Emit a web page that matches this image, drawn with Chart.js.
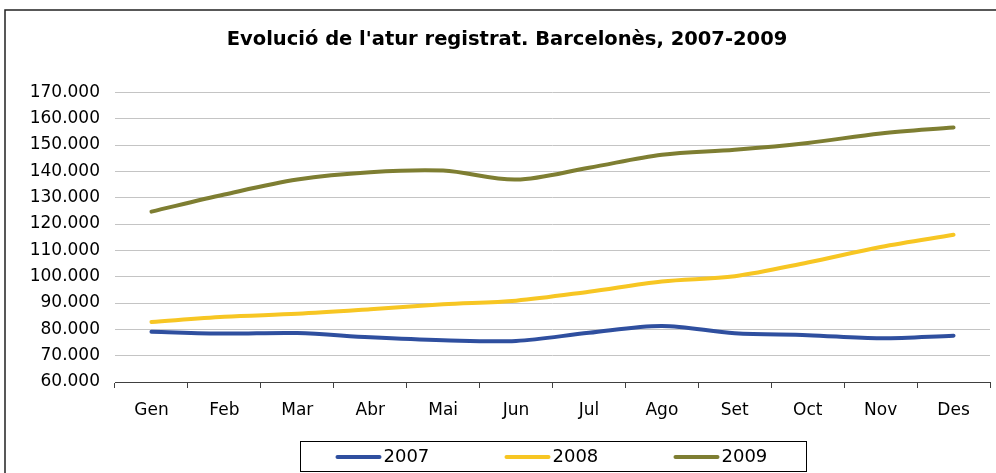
<!DOCTYPE html>
<html>
<head>
<meta charset="utf-8">
<script src="https://cdn.jsdelivr.net/npm/chart.js@4/dist/chart.umd.min.js"></script>
<style>
  html, body { margin: 0; padding: 0; background: #fff; }
  #wrap { width: 996px; height: 473px; position: relative; }
  canvas { display: block; }
</style>
</head>
<body>
<div id="wrap"><canvas id="c" width="996" height="473"></canvas></div>
<script>
// ---- Data ----
const months = ['Gen','Feb','Mar','Abr','Mai','Jun','Jul','Ago','Set','Oct','Nov','Des'];
const seriesNames = ['2007','2008','2009'];
const atur2007 = [79100, 78400, 78600, 77000, 75900, 75600, 78700, 81300, 78500, 77800, 76600, 77600];
const atur2008 = [82800, 84800, 85900, 87600, 89500, 90900, 94300, 98200, 100200, 105400, 111300, 115900];
const atur2009 = [124700, 131200, 136900, 139700, 140300, 136900, 141400, 146300, 148200, 150800, 154400, 156700];
const yTickValues = [60000, 70000, 80000, 90000, 100000, 110000, 120000, 130000, 140000, 150000, 160000, 170000];
const titleText = "Evolució de l'atur registrat. Barcelonès, 2007-2009";

const colors = ['#2F4F9F', '#F7C623', '#7E7E32'];
const FONT = '"DejaVu Sans", Verdana, sans-serif';

function fmt(v) {
  return String(Math.round(v)).replace(/\B(?=(\d{3})+(?!\d))/g, '.');
}

const frame = {
  id: 'frame',
  beforeDraw(chart) {
    const ctx = chart.ctx;
    ctx.save();
    ctx.fillStyle = '#fff';
    ctx.fillRect(0, 0, chart.width, chart.height);
    ctx.strokeStyle = '#222';
    ctx.lineWidth = 1.5;
    ctx.beginPath();
    ctx.moveTo(5, chart.height + 5);
    ctx.lineTo(5, 10);
    ctx.lineTo(chart.width + 5, 10);
    ctx.stroke();
    ctx.restore();
  }
};

const boxLegend = {
  id: 'boxLegend',
  afterDraw(chart) {
    const ctx = chart.ctx;
    const ca = chart.chartArea;
    const cx = (ca.left + ca.right) / 2;
    const boxW = 506, top = 441.5, bottom = 471.5;
    const left = Math.round(cx - boxW / 2) + 0.5;
    ctx.save();
    ctx.strokeStyle = '#000';
    ctx.lineWidth = 1;
    ctx.strokeRect(left, top, boxW, bottom - top);
    const y = (top + bottom) / 2 + 0.5;
    chart.data.datasets.forEach((ds, i) => {
      const x0 = left + 37 + i * 169;
      ctx.strokeStyle = ds.borderColor;
      ctx.lineWidth = 4;
      ctx.lineCap = 'round';
      ctx.beginPath();
      ctx.moveTo(x0, y);
      ctx.lineTo(x0 + 42, y);
      ctx.stroke();
      ctx.fillStyle = '#000';
      ctx.font = '18px ' + FONT;
      ctx.textBaseline = 'middle';
      ctx.textAlign = 'left';
      ctx.fillText(ds.label, x0 + 46, y);
    });
    ctx.restore();
  }
};

const datasets = [atur2007, atur2008, atur2009].map((arr, i) => ({
  label: seriesNames[i],
  data: arr,
  borderColor: colors[i],
  backgroundColor: colors[i],
  borderWidth: 4,
  borderCapStyle: 'round',
  borderJoinStyle: 'round',
  pointRadius: 0,
  pointHoverRadius: 0,
  tension: 0.33,
  fill: false
}));

new Chart(document.getElementById('c'), {
  type: 'line',
  data: { labels: months, datasets },
  options: {
    responsive: false,
    devicePixelRatio: 1,
    animation: false,
    layout: { padding: { left: 24, right: 6, top: 0, bottom: 32 } },
    plugins: {
      legend: { display: false },
      tooltip: { enabled: false },
      title: {
        display: true,
        text: titleText,
        color: '#000',
        font: { family: FONT, size: 19.5, weight: 'bold' },
        padding: { top: 28, bottom: 41 }
      }
    },
    scales: {
      x: {
        offset: true,
        grid: {
          offset: true,
          drawOnChartArea: false,
          drawTicks: true,
          tickLength: 6,
          color: '#404040',
          lineWidth: 1
        },
        border: { display: true, color: '#404040', width: 1 },
        ticks: {
          color: '#000',
          font: { family: FONT, size: 17 },
          padding: 12,
          maxRotation: 0,
          autoSkip: false
        },
        afterFit(s) { s.height = 59; }
      },
      y: {
        min: yTickValues[0],
        max: yTickValues[yTickValues.length - 1],
        afterBuildTicks(s) { s.ticks = yTickValues.map(v => ({ value: v })); },
        grid: { color: '#C4C4C4', lineWidth: 1, drawTicks: false },
        border: { display: false },
        ticks: {
          color: '#000',
          font: { family: FONT, size: 17 },
          padding: 15,
          callback: (v) => fmt(v)
        },
        afterFit(s) { s.width = 91; }
      }
    }
  },
  plugins: [frame, boxLegend]
});
</script>
</body>
</html>
